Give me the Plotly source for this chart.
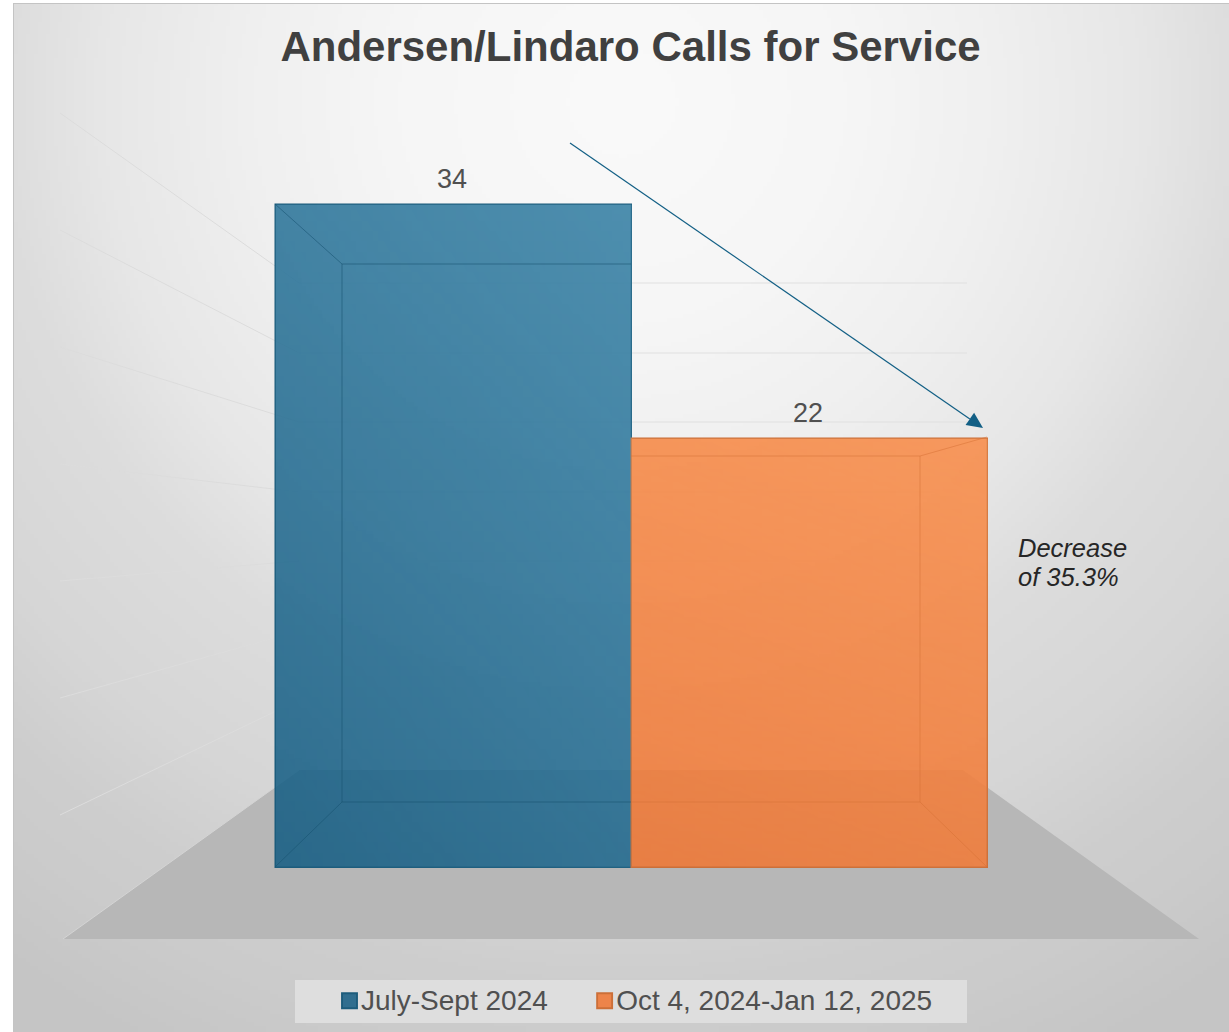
import base64, struct, zlib
import numpy as np
import plotly.graph_objects as go

# ---- data ----
TITLE = "Andersen/Lindaro Calls for Service"
SERIES_NAMES = ["July-Sept 2024\u00a0\u00a0\u00a0", "Oct 4, 2024-Jan 12, 2025"]
SERIES_POS = [0, 1]
SERIES_VALUES = [34, 22]
NOTE_LINES = ["Decrease", "of 35.3%"]

W, H = 1229, 1032
# pixel frame of the bars (only used to fix axis ranges)
PX_L, PX_M, PX_R = 275.5, 631.5, 987.5
PX_BASE, PX_TOP = 867.5, 204.5
ux = PX_M - PX_L
uy = (PX_BASE - PX_TOP) / SERIES_VALUES[0]


def png_uri(rgba):
    h, w = rgba.shape[:2]
    raw = b"".join(b"\x00" + rgba[i].tobytes() for i in range(h))
    def chunk(t, d):
        return struct.pack(">I", len(d)) + t + d + struct.pack(">I", zlib.crc32(t + d) & 0xffffffff)
    data = (b"\x89PNG\r\n\x1a\n" + chunk(b"IHDR", struct.pack(">IIBBBBB", w, h, 8, 6, 0, 0, 0))
            + chunk(b"IDAT", zlib.compress(raw)) + chunk(b"IEND", b""))
    return "data:image/png;base64," + base64.b64encode(data).decode()


def background():
    yy, xx = np.mgrid[0:H // 4, 0:W // 4]
    d = np.hypot(xx * 4 - 620.0, yy * 4 - 100.0)
    v = np.interp(d, [0, 225, 370, 520, 620, 780, 880, 960, 1066],
                  [250, 246, 240, 231, 221, 214, 206, 203, 197])
    a = np.full(v.shape + (4,), 255, dtype=np.uint8)
    a[..., 0] = a[..., 1] = a[..., 2] = v.astype(np.uint8)
    return png_uri(a)


def sheen(rgb, amax, fx, fy):
    n = 64
    yy, xx = np.mgrid[0:n, 0:n] / (n - 1)
    t = (fx * xx + fy * (1 - yy)) / (fx + fy)
    a = np.zeros((n, n, 4), dtype=np.uint8)
    a[..., 0], a[..., 1], a[..., 2] = rgb
    a[..., 3] = (255 * amax * t).astype(np.uint8)
    return png_uri(a)


def px(x):
    return x / W


def py(y):
    return 1 - y / H


def line(x0, y0, x1, y1, color, width=1, layer="below"):
    return dict(type="line", xref="paper", yref="paper", x0=px(x0), y0=py(y0), x1=px(x1), y1=py(y1),
                line=dict(color=color, width=width), layer=layer)


def poly(pts, fill, layer="below", line_spec=None):
    path = "M" + "L".join(f"{px(a):.5f},{py(b):.5f}" for a, b in pts) + "Z"
    return dict(type="path", xref="paper", yref="paper", path=path, fillcolor=fill, layer=layer,
                line=line_spec or dict(width=0))


FONT = "Liberation Sans, Arial, sans-serif"
BLUE = "rgba(24,95,132,0.88)"
ORANGE = "rgba(239,119,53,0.88)"

fig = go.Figure()
fig.add_trace(go.Bar(x=[SERIES_POS[0]], y=[SERIES_VALUES[0]], name=SERIES_NAMES[0], width=1,
                     marker=dict(color=BLUE, line=dict(color="#1c5c7c", width=1.5))))
fig.add_trace(go.Bar(x=[SERIES_POS[1]], y=[SERIES_VALUES[1]], name=SERIES_NAMES[1], width=1,
                     marker=dict(color=ORANGE, line=dict(color="#cc6f38", width=1.5))))

shapes = []
# page frame
shapes.append(dict(type="rect", xref="paper", yref="paper", x0=0, x1=px(13), y0=0, y1=1,
                   fillcolor="white", line=dict(width=0), layer="below"))
shapes.append(dict(type="rect", xref="paper", yref="paper", x0=0, x1=1, y0=py(3), y1=1,
                   fillcolor="white", line=dict(width=0), layer="below"))
shapes.append(line(13.5, 3, 13.5, H, "#c4c4c4", 1))
shapes.append(line(13, 3.5, W, 3.5, "#c4c4c4", 1))
# floor
shapes.append(poly([(63, 939), (1199, 939), (963, 770), (299, 770)], "#b7b7b7"))
# back wall and side wall gridlines
for i, yb in enumerate([283, 353, 422, 492, 561, 631, 700]):
    shapes.append(line(60, 113 + 117 * i, 299, yb, "#dcdcdc", 1))
    shapes.append(line(299, yb, 967, yb, "#dfdfdf", 1.2))
shapes.append(line(63, 939, 299, 770, "#d4d4d4", 1))
# legend panel
shapes.append(dict(type="rect", xref="paper", yref="paper", x0=px(295), x1=px(967), y0=py(1023), y1=py(980),
                   fillcolor="#dedede", line=dict(width=0), layer="below"))
# bevel lines on bars
C_B = "rgba(22,82,112,0.55)"
C_O = "rgba(214,112,52,0.5)"
for seg in [(275, 204, 342, 264), (275, 867, 342, 802), (342, 264, 631, 264), (342, 802, 631, 802), (342, 264, 342, 802)]:
    shapes.append(line(*seg, C_B, 1, "above"))
for seg in [(987, 437, 920, 456), (987, 867, 920, 802), (631, 456, 920, 456), (631, 802, 920, 802), (920, 456, 920, 802)]:
    shapes.append(line(*seg, C_O, 1, "above"))
# trend arrow
AX0, AY0, AX1, AY1 = 570, 143, 983, 428
ang = np.arctan2(AY1 - AY0, AX1 - AX0)
ux_, uy_ = np.cos(ang), np.sin(ang)
bx, by = AX1 - 16 * ux_, AY1 - 16 * uy_
shapes.append(line(AX0, AY0, bx, by, "#125f85", 1.2, "above"))
shapes.append(poly([(AX1, AY1), (bx - 7.5 * uy_, by + 7.5 * ux_), (bx + 7.5 * uy_, by - 7.5 * ux_)], "#125f85", "above"))

images = [
    dict(source=background(), xref="paper", yref="paper", x=0, y=1, sizex=1, sizey=1,
         sizing="stretch", layer="below", xanchor="left", yanchor="top"),
    dict(source=sheen((125, 195, 225), 0.36, 0.35, 0.65), xref="x", yref="y", x=SERIES_POS[0] - 0.5, y=SERIES_VALUES[0],
         sizex=1, sizey=SERIES_VALUES[0], sizing="stretch", layer="above", xanchor="left", yanchor="top"),
    dict(source=sheen((255, 175, 115), 0.45, 0.25, 1), xref="x", yref="y", x=SERIES_POS[1] - 0.5, y=SERIES_VALUES[1],
         sizex=1, sizey=SERIES_VALUES[1], sizing="stretch", layer="above", xanchor="left", yanchor="top"),
]

annotations = [dict(text=str(v), x=p, y=v, xref="x", yref="y", yanchor="middle", yshift=26, xshift=-1.5, showarrow=False,
                    font=dict(size=27, color="#505050", family=FONT))
               for p, v in zip(SERIES_POS, SERIES_VALUES)]
for txt, yy in zip(NOTE_LINES, [548, 577]):
    annotations.append(dict(text=f"<i>{txt}</i>", xref="paper", yref="paper", x=px(1016), y=py(yy),
                            xanchor="left", yanchor="middle", align="left", showarrow=False,
                            font=dict(size=25.5, color="#262626", family=FONT)))

fig.update_layout(
    width=W, height=H, margin=dict(l=0, r=0, t=0, b=0, pad=0),
    paper_bgcolor="white", plot_bgcolor="rgba(0,0,0,0)",
    barmode="overlay", bargap=0,
    xaxis=dict(visible=False, range=[SERIES_POS[0] - 0.5 - PX_L / ux, SERIES_POS[1] + 0.5 + (W - PX_R) / ux]),
    yaxis=dict(visible=False, range=[-(H - PX_BASE) / uy, PX_BASE / uy]),
    title=dict(text=f"<b>{TITLE}</b>", x=630.5 / W, xanchor="center", y=py(46), yanchor="middle",
               font=dict(size=42, color="#404040", family=FONT)),
    legend=dict(orientation="h", x=px(321), xanchor="left", y=py(999), yanchor="middle",
                bgcolor="rgba(0,0,0,0)", borderwidth=0, font=dict(size=28, color="#505050", family=FONT)),
    shapes=shapes, images=images, annotations=annotations,
)

post = """
document.body.style.margin='0';
document.documentElement.style.overflow='hidden';
document.querySelectorAll('.legendsymbols').forEach(function(g){g.setAttribute('transform','translate(3.5,2) scale(1.25)');});
"""
fig.write_html("out.html", post_script=post, config=dict(displayModeBar=False))
